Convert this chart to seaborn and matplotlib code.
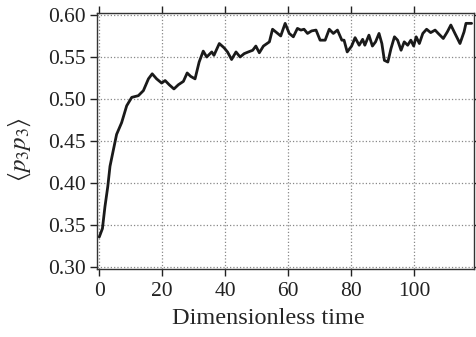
import numpy as np
import pandas as pd
import seaborn as sns
import matplotlib.pyplot as plt

# values
time = [0, 1.0, 1.8, 2.7, 3.4, 4.5, 5.5, 7.1, 8.7, 10.3, 12.4, 14.0, 15.6, 16.8,
        18.2, 19.8, 20.9, 22.2, 23.7, 25.1, 26.7, 27.9, 29.0, 30.4, 31.7, 33.0,
        34.1, 35.7, 36.4, 38.1, 39.6, 40.7, 42.0, 43.4, 44.7, 46.0, 47.3, 48.7,
        49.7, 50.8, 52.1, 54.0, 55.0, 56.3, 57.6, 59.0, 60.3, 61.6, 62.9, 64.0,
        65.0, 66.1, 67.4, 68.8, 70.1, 71.7, 73.0, 74.3, 75.6, 77.0, 77.7, 78.7,
        80.1, 81.2, 82.5, 83.6, 84.3, 85.6, 86.7, 87.7, 88.8, 89.7, 90.5, 91.6,
        92.6, 93.7, 94.7, 95.8, 96.8, 97.9, 98.9, 99.8, 100.6, 101.6, 102.7,
        103.9, 105.2, 106.6, 107.6, 109.2, 110.5, 111.6, 112.9, 114.5, 115.8,
        116.4, 118.2]
p3p3 = [0.336, 0.346, 0.372, 0.396, 0.420, 0.440, 0.458, 0.472, 0.492, 0.502,
        0.504, 0.510, 0.524, 0.530, 0.524, 0.519, 0.522, 0.517, 0.512, 0.517,
        0.521, 0.531, 0.527, 0.524, 0.544, 0.557, 0.550, 0.556, 0.552, 0.566,
        0.561, 0.556, 0.547, 0.556, 0.550, 0.554, 0.556, 0.558, 0.563, 0.555,
        0.563, 0.568, 0.583, 0.579, 0.575, 0.590, 0.578, 0.574, 0.584, 0.582,
        0.583, 0.578, 0.581, 0.582, 0.570, 0.570, 0.583, 0.578, 0.582, 0.570,
        0.570, 0.556, 0.563, 0.573, 0.564, 0.571, 0.564, 0.576, 0.563, 0.568,
        0.578, 0.566, 0.546, 0.544, 0.560, 0.574, 0.570, 0.558, 0.568, 0.564,
        0.570, 0.563, 0.574, 0.566, 0.578, 0.583, 0.579, 0.582, 0.578, 0.572,
        0.580, 0.588, 0.578, 0.566, 0.580, 0.590, 0.590]
xticks = [0, 20, 40, 60, 80, 100]
yticks = [0.30, 0.35, 0.40, 0.45, 0.50, 0.55, 0.60]

df = pd.DataFrame({'t': time, 'p': p3p3})

sns.set_style('ticks')
plt.rcParams['font.family'] = ['Liberation Serif', 'DejaVu Serif']
plt.rcParams['mathtext.fontset'] = 'stix'

fig = plt.figure(figsize=(4.76, 3.37), dpi=100)
ax = fig.add_axes([0.2044, 0.201, 0.7914, 0.7614])

sns.lineplot(data=df, x='t', y='p', ax=ax, color='#1a1a1a', linewidth=2.0)

ax.set_xlim(-0.63, 118.95)
ax.set_ylim(0.2976, 0.6027)
ax.set_xticks(xticks)
ax.set_yticks(yticks)
ax.set_yticklabels(['%.2f' % v for v in yticks])
ax.grid(True, linestyle=':', color='#888888', linewidth=0.9)
ax.tick_params(direction='out', length=5, width=1, labelsize=15.5, pad=3,
               top=True, right=True, colors='#222222')
ax.tick_params(axis='x', pad=4.5)
for s in ax.spines.values():
    s.set_linewidth(1.0)
    s.set_color('#333333')

ax.set_xlabel('Dimensionless time', fontsize=17.5)
ax.xaxis.set_label_coords(0.453, -0.15)
ax.set_ylabel(r'$\langle p_3 p_3 \rangle$', fontsize=18)
ax.yaxis.set_label_coords(-0.17, 0.465)

fig.savefig('out.png', dpi=100)
